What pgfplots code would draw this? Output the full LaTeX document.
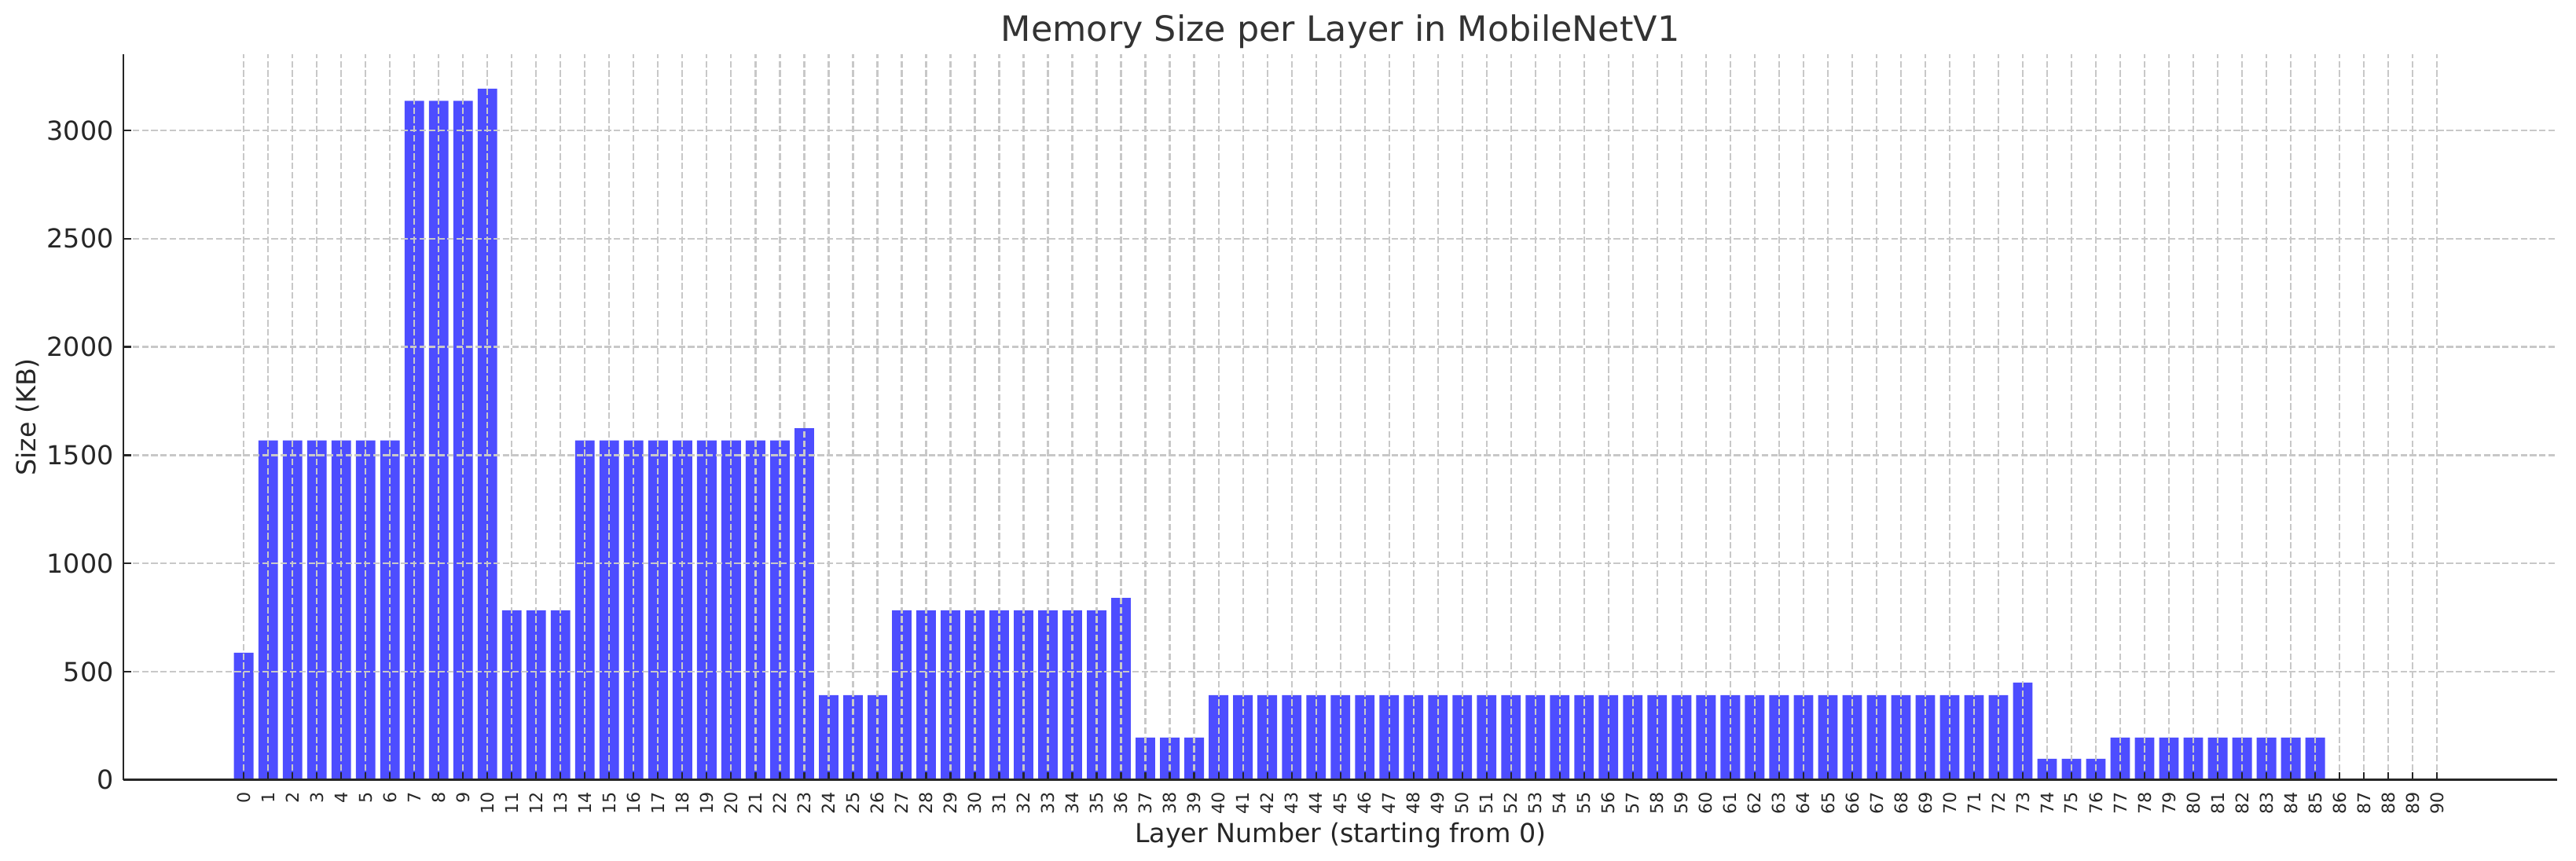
\documentclass[border=0pt]{standalone}
\usepackage{fontspec}
\setmainfont{DejaVu Sans}
\usepackage{pgfplots}
\pgfplotsset{compat=1.18}
\definecolor{barblue}{RGB}{77,77,255}
\definecolor{gridgray}{RGB}{200,200,200}
\definecolor{txt}{RGB}{38,38,38}
\definecolor{titletxt}{RGB}{51,51,51}

% layer index, size in KB
\pgfplotstableread{
x y
0 588
1 1568
2 1568
3 1568
4 1568
5 1568
6 1568
7 3136
8 3136
9 3136
10 3192.25
11 784
12 784
13 784
14 1568
15 1568
16 1568
17 1568
18 1568
19 1568
20 1568
21 1568
22 1568
23 1624.5
24 392
25 392
26 392
27 784
28 784
29 784
30 784
31 784
32 784
33 784
34 784
35 784
36 841
37 196
38 196
39 196
40 392
41 392
42 392
43 392
44 392
45 392
46 392
47 392
48 392
49 392
50 392
51 392
52 392
53 392
54 392
55 392
56 392
57 392
58 392
59 392
60 392
61 392
62 392
63 392
64 392
65 392
66 392
67 392
68 392
69 392
70 392
71 392
72 392
73 450
74 98
75 98
76 98
77 196
78 196
79 196
80 196
81 196
82 196
83 196
84 196
85 196
86 4
87 4
88 4
89 3.9
90 3.9
}\layers

\begin{document}
\begin{tikzpicture}
\begin{axis}[
    scale only axis,
    width=1115pt, height=332.6pt,
    xmin=-4.94, xmax=94.94,
    ymin=0, ymax=3352,
    axis on top,
    axis x line*=bottom, axis y line*=left,
    axis line style={-, line width=1pt, color=txt},
    xtick={0,...,90},
    ytick={0,500,...,3000},
    tick align=inside,
    major tick length=3.5pt,
    tick style={line width=0.8pt, color=txt},
    grid=major,
    major grid style={gridgray, line width=0.8pt, dash pattern=on 2.96pt off 1.28pt},
    /pgf/number format/assume math mode=true,
    /pgf/number format/set thousands separator={},
    xticklabel style={rotate=90, anchor=east, inner sep=0pt, font=\fontsize{8}{8}\selectfont, text=txt},
    xticklabel shift=5.4pt,
    yticklabel style={inner sep=0pt, font=\fontsize{12}{12}\selectfont, text=txt},
    yticklabel shift=4.3pt,
    title={Memory Size per Layer in MobileNetV1},
    every axis title/.style={at={(axis description cs:0.5,1)}, anchor=base, yshift=5.8pt, inner sep=0pt, font=\fontsize{16}{16}\selectfont, text=titletxt},
    xlabel={Layer Number (starting from 0)},
    xlabel style={at={(axis description cs:0.5,-0.076)}, anchor=center, inner sep=0pt, font=\fontsize{12}{12}\selectfont, text=txt},
    ylabel={Size (KB)},
    ylabel style={at={(axis description cs:-0.0394,0.5)}, anchor=center, inner sep=0pt, font=\fontsize{12}{12}\selectfont, text=txt},
]
\addplot[ybar, bar width=0.8, fill=barblue, draw=none] table[x=x, y=y] {\layers};
\end{axis}
\pgfresetboundingbox
\path[use as bounding box] (-56.5pt,-37.1pt) rectangle (1123.5pt,357.4pt);
\end{tikzpicture}
\end{document}
